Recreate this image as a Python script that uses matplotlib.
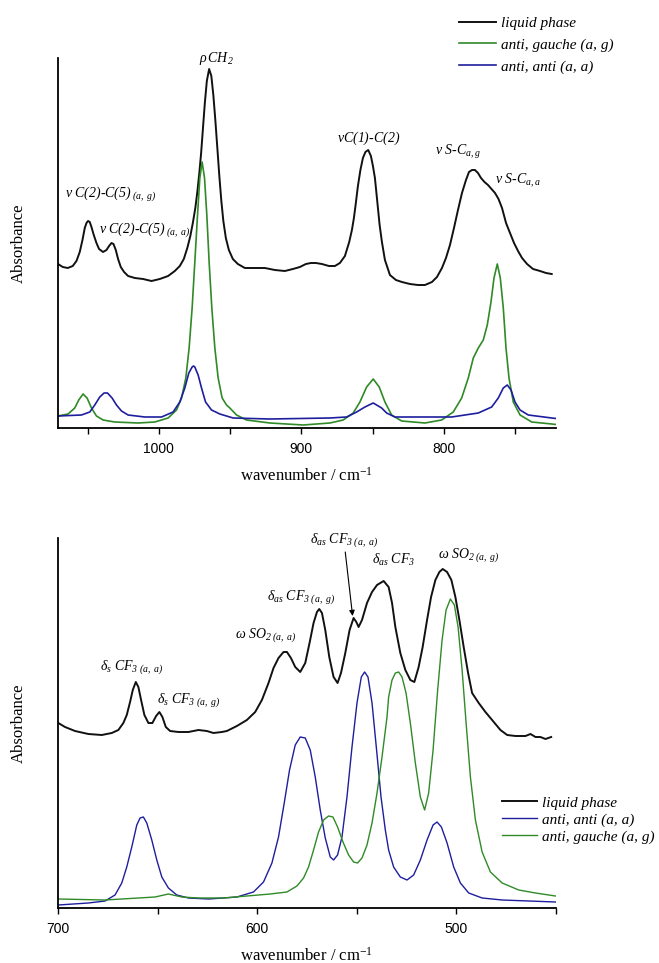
import matplotlib
matplotlib.use("Agg")
import matplotlib.pyplot as plt
from matplotlib.font_manager import FontProperties

# ---------------- data ----------------
# Top panel: 1070-722 cm-1, absorbance in arbitrary units
top_liq_wn = [1070.67, 1067.37, 1063.86, 1060.35, 1057.75, 1055.44, 1053.54, 1051.93, 1050.73, 1049.61,
              1048.42, 1047.23, 1045.61, 1043.72, 1041.90, 1039.09, 1036.70, 1034.88, 1033.19, 1031.79,
              1030.17, 1028.56, 1026.66, 1024.35, 1021.54, 1016.84, 1011.02, 1005.12, 999.30, 993.47,
              988.77, 985.26, 982.45, 980.00, 977.88, 976.13, 974.38, 972.98, 971.57, 970.31,
              969.12, 967.71, 966.31, 964.70, 963.15, 961.75, 960.35, 958.94, 957.54, 956.13,
              954.73, 952.97, 950.86, 948.06, 944.55, 939.64, 932.60, 925.60, 918.58, 911.57,
              905.95, 901.04, 896.83, 893.33, 889.82, 885.60, 880.69, 876.48, 872.97, 869.46,
              866.44, 864.55, 863.15, 861.96, 860.34, 858.59, 856.83, 855.08, 853.11, 851.22,
              849.81, 848.41, 846.65, 845.11, 843.50, 841.39, 837.88, 833.67, 829.46, 823.84,
              818.23, 813.32, 808.41, 804.90, 801.39, 798.58, 795.77, 792.96, 790.16, 787.35,
              784.54, 782.44, 780.33, 778.23, 776.12, 774.01, 771.56, 769.10, 766.64, 764.17,
              761.72, 759.26, 756.45, 753.65, 750.84, 748.03, 745.22, 741.71, 737.52, 732.61,
              728.40, 724.40]
top_liq = [1.64, 1.61, 1.60, 1.62, 1.67, 1.76, 1.88, 2.00, 2.05, 2.07,
           2.06, 2.01, 1.93, 1.85, 1.79, 1.76, 1.78, 1.82, 1.85, 1.84,
           1.78, 1.69, 1.61, 1.56, 1.52, 1.50, 1.49, 1.47, 1.49, 1.52,
           1.57, 1.62, 1.69, 1.80, 1.92, 2.05, 2.20, 2.36, 2.55, 2.75,
           2.98, 3.25, 3.47, 3.59, 3.52, 3.33, 3.08, 2.80, 2.52, 2.27,
           2.07, 1.90, 1.78, 1.69, 1.64, 1.60, 1.60, 1.60, 1.58, 1.57,
           1.59, 1.61, 1.64, 1.65, 1.65, 1.64, 1.62, 1.62, 1.65, 1.72,
           1.86, 1.98, 2.10, 2.23, 2.42, 2.58, 2.70, 2.76, 2.78, 2.72,
           2.62, 2.50, 2.25, 2.03, 1.86, 1.68, 1.53, 1.48, 1.46, 1.44,
           1.43, 1.43, 1.46, 1.51, 1.60, 1.70, 1.83, 2.00, 2.18, 2.35,
           2.48, 2.56, 2.58, 2.58, 2.55, 2.50, 2.46, 2.43, 2.39, 2.35,
           2.29, 2.20, 2.05, 1.95, 1.85, 1.77, 1.70, 1.64, 1.59, 1.57,
           1.55, 1.54]

top_ag_wn = [1070.67, 1063.65, 1058.95, 1056.14, 1053.12, 1050.31, 1047.23, 1043.72, 1039.09, 1030.87,
             1014.52, 1002.80, 993.47, 987.57, 984.06, 981.04, 978.73, 976.62, 974.73, 972.84,
             971.22, 969.61, 967.93, 966.31, 964.70, 962.80, 960.69, 958.37, 955.57, 952.48,
             950.17, 945.47, 938.45, 922.09, 898.73, 879.99, 870.65, 863.63, 858.93, 854.23,
             849.59, 845.38, 841.39, 836.68, 829.66, 813.32, 801.60, 793.46, 787.56, 782.93,
             779.42, 775.91, 772.40, 769.60, 767.00, 764.89, 762.58, 760.47, 758.37, 756.47,
             754.37, 751.35, 746.62, 738.43, 724.40, 721.39]
top_ag = [0.12, 0.14, 0.20, 0.28, 0.34, 0.30, 0.20, 0.12, 0.08, 0.06,
          0.05, 0.06, 0.10, 0.18, 0.30, 0.50, 0.80, 1.20, 1.66, 2.13,
          2.50, 2.66, 2.50, 2.13, 1.66, 1.20, 0.80, 0.50, 0.30, 0.23,
          0.20, 0.13, 0.08, 0.05, 0.03, 0.05, 0.08, 0.15, 0.26, 0.41,
          0.49, 0.41, 0.26, 0.13, 0.07, 0.05, 0.08, 0.16, 0.30, 0.50,
          0.70, 0.80, 0.88, 1.03, 1.26, 1.50, 1.64, 1.50, 1.20, 0.80,
          0.50, 0.26, 0.13, 0.06, 0.04, 0.035]

top_aa_wn = [1070.67, 1054.24, 1048.42, 1044.91, 1041.40, 1038.38, 1036.00, 1032.77, 1029.68, 1026.17,
             1021.54, 1009.82, 998.10, 989.96, 985.26, 981.75, 978.94, 976.62, 975.64, 974.73,
             972.41, 970.03, 967.22, 963.01, 957.18, 947.85, 922.09, 879.99, 868.27, 861.25,
             855.41, 849.59, 843.70, 840.19, 834.37, 794.58, 775.91, 766.51, 761.88, 758.37,
             755.56, 752.96, 750.15, 746.62, 740.82, 724.40, 721.39]
top_aa = [0.12, 0.13, 0.16, 0.23, 0.31, 0.35, 0.35, 0.30, 0.23, 0.17,
          0.13, 0.11, 0.11, 0.16, 0.26, 0.40, 0.55, 0.61, 0.62, 0.61,
          0.53, 0.40, 0.26, 0.18, 0.14, 0.10, 0.09, 0.10, 0.11, 0.16,
          0.21, 0.25, 0.20, 0.15, 0.11, 0.11, 0.15, 0.21, 0.30, 0.40,
          0.43, 0.38, 0.26, 0.18, 0.13, 0.10, 0.095]

# Bottom panel: 700-450 cm-1
bot_liq_wn = [699.85, 696.48, 691.46, 684.77, 678.04, 673.02, 669.70, 667.19, 665.48, 663.82,
              662.46, 660.95, 659.65, 658.29, 656.63, 654.62, 652.61, 650.75, 649.10, 647.59,
              645.88, 643.72, 639.55, 634.53, 629.50, 625.28, 621.96, 617.74, 615.23, 610.20,
              605.18, 601.01, 597.64, 594.32, 591.81, 589.30, 586.79, 585.08, 583.07, 580.91,
              578.40, 575.88, 573.72, 571.71, 570.00, 568.85, 567.49, 565.83, 563.82, 561.66,
              559.65, 557.94, 555.78, 553.62, 551.61, 550.25, 549.10, 547.39, 544.88, 542.36,
              539.85, 536.53, 534.02, 532.31, 530.65, 528.15, 525.63, 523.12, 521.11, 518.95,
              516.94, 514.73, 512.72, 510.55, 508.55, 506.89, 504.68, 502.52, 500.51, 498.50,
              496.34, 494.13, 492.12, 488.80, 485.43, 482.07, 477.90, 474.51, 470.36, 465.33,
              462.82, 460.31, 457.80, 455.28, 452.42]
bot_liq = [1.85, 1.81, 1.77, 1.74, 1.73, 1.75, 1.78, 1.85, 1.93, 2.06,
           2.18, 2.26, 2.21, 2.08, 1.93, 1.85, 1.85, 1.92, 1.96, 1.91,
           1.81, 1.77, 1.76, 1.76, 1.78, 1.77, 1.75, 1.76, 1.77, 1.82,
           1.88, 1.96, 2.08, 2.25, 2.40, 2.50, 2.56, 2.56, 2.50, 2.41,
           2.36, 2.45, 2.65, 2.85, 2.96, 2.99, 2.95, 2.78, 2.51, 2.31,
           2.25, 2.35, 2.55, 2.78, 2.90, 2.86, 2.81, 2.88, 3.05, 3.16,
           3.23, 3.27, 3.21, 3.05, 2.81, 2.55, 2.38, 2.28, 2.26, 2.41,
           2.61, 2.88, 3.11, 3.28, 3.36, 3.39, 3.36, 3.28, 3.11, 2.88,
           2.61, 2.35, 2.15, 2.05, 1.96, 1.88, 1.78, 1.73, 1.72, 1.72,
           1.74, 1.71, 1.71, 1.69, 1.71]

bot_aa_wn = [699.85, 684.77, 676.38, 671.36, 667.99, 665.48, 662.97, 660.45, 658.79, 657.13,
             655.43, 652.92, 650.41, 647.89, 644.57, 640.37, 634.53, 624.48, 616.94, 610.20,
             601.86, 596.83, 592.61, 589.30, 586.43, 583.77, 580.91, 578.40, 575.88, 573.37,
             570.86, 568.35, 565.83, 563.32, 561.66, 559.65, 557.44, 554.93, 552.41, 549.90,
             547.74, 546.08, 544.38, 542.36, 540.21, 537.84, 535.68, 534.02, 531.51, 528.15,
             524.78, 521.46, 518.10, 514.73, 511.71, 509.71, 507.54, 504.68, 501.36, 498.00,
             493.82, 487.09, 477.04, 463.67, 450.26]
bot_aa = [0.03, 0.05, 0.07, 0.13, 0.25, 0.41, 0.61, 0.83, 0.90, 0.91,
          0.85, 0.68, 0.48, 0.31, 0.20, 0.13, 0.10, 0.09, 0.10, 0.11,
          0.16, 0.26, 0.45, 0.71, 1.05, 1.38, 1.63, 1.71, 1.70, 1.58,
          1.31, 0.98, 0.70, 0.51, 0.48, 0.53, 0.71, 1.11, 1.61, 2.05,
          2.31, 2.36, 2.31, 2.05, 1.61, 1.11, 0.78, 0.58, 0.41, 0.31,
          0.28, 0.33, 0.48, 0.68, 0.83, 0.86, 0.81, 0.65, 0.41, 0.25,
          0.15, 0.10, 0.08, 0.07, 0.06]

bot_ag_wn = [699.85, 676.38, 659.65, 651.26, 644.57, 637.84, 629.50, 616.94, 605.18, 593.47,
             585.08, 580.05, 576.73, 574.22, 571.71, 569.20, 566.68, 564.17, 561.96, 559.65,
             556.93, 554.12, 551.61, 549.60, 547.39, 544.88, 542.36, 539.85, 537.34, 534.83,
             534.02, 532.31, 530.65, 528.99, 527.29, 525.28, 523.12, 520.61, 518.10, 515.94,
             513.93, 511.71, 509.40, 507.19, 505.18, 503.02, 501.01, 499.15, 497.14, 495.13,
             492.97, 490.46, 487.09, 482.92, 477.04, 468.70, 460.31, 450.26]
bot_ag = [0.09, 0.08, 0.10, 0.11, 0.14, 0.11, 0.10, 0.10, 0.12, 0.14,
          0.16, 0.22, 0.30, 0.41, 0.58, 0.76, 0.88, 0.92, 0.91, 0.81,
          0.66, 0.53, 0.46, 0.45, 0.50, 0.63, 0.85, 1.15, 1.51, 1.91,
          2.11, 2.28, 2.35, 2.36, 2.31, 2.15, 1.85, 1.45, 1.11, 0.98,
          1.15, 1.58, 2.18, 2.68, 2.98, 3.09, 3.03, 2.81, 2.38, 1.85,
          1.31, 0.88, 0.56, 0.36, 0.25, 0.18, 0.15, 0.12]

top_ticks = [1000, 900, 800]
top_minor = [1050, 950, 850, 750]
bot_ticks = [700, 600, 500]
bot_minor = [650, 550, 450]

lab_liq = "liquid phase"
lab_ag = "anti, gauche (a, g)"
lab_aa = "anti, anti (a, a)"

# ---------------- styling ----------------
plt.rcParams['font.family'] = ['Liberation Sans', 'DejaVu Sans']
plt.rcParams['mathtext.fontset'] = 'custom'
plt.rcParams['mathtext.rm'] = 'Liberation Serif:italic'
plt.rcParams['mathtext.it'] = 'Liberation Serif:italic'
plt.rcParams['mathtext.bf'] = 'Liberation Serif:bold'

C_LIQ = '#111111'
C_AG = '#2f8a27'
C_AA = '#1e1e9e'

serif = ['Liberation Serif', 'DejaVu Serif']
ann_kw = dict(family=serif, style='italic', fontsize=10, ha='left', va='baseline')

fig = plt.figure(figsize=(6.59, 9.63), dpi=100)
ax1 = fig.add_axes([58/659, 535/963, 498/659, 370/963])
ax2 = fig.add_axes([58/659, 55/963, 498/659, 370/963])

for ax in (ax1, ax2):
    ax.spines['top'].set_visible(False)
    ax.spines['right'].set_visible(False)
    ax.spines['left'].set_linewidth(1.3)
    ax.spines['bottom'].set_linewidth(1.3)
    ax.set_yticks([])
    ax.set_ylim(0, 3.70)
    ax.tick_params(axis='x', which='both', direction='out', length=4, width=1.0,
                   labelsize=10, pad=6)
    ax.set_ylabel('Absorbance', family=serif, fontsize=12)
    ax.yaxis.set_label_coords(-0.062, 0.5)
    ax.set_xlabel(r'wavenumber / cm$^{\mathregular{-1}}$', family=serif, fontsize=12)
    ax.xaxis.set_label_coords(0.5, -0.105)

# top panel
l1, = ax1.plot(top_liq_wn, top_liq, color=C_LIQ, lw=1.4)
l2, = ax1.plot(top_ag_wn, top_ag, color=C_AG, lw=1.2)
l3, = ax1.plot(top_aa_wn, top_aa, color=C_AA, lw=1.2)
ax1.set_xlim(1070.7, 721.4)
ax1.set_xticks(top_ticks)
ax1.set_xticks(top_minor, minor=True)

ax1.text(971.9, 3.66, r'$\rho\,$CH$_2$', **ann_kw)
ax1.text(1066.0, 2.31, r'$\nu$ C(2)-C(5)$_{\ (a,\ g)}$', **ann_kw)
ax1.text(1042.1, 1.95, r'$\nu$ C(2)-C(5)$_{\ (a,\ a)}$', **ann_kw)
ax1.text(875.1, 2.86, r'$\nu$C(1)-C(2)', **ann_kw)
ax1.text(806.3, 2.73, r'$\nu$ S-C$_{a,g}$', **ann_kw)
ax1.text(764.2, 2.44, r'$\nu$ S-C$_{a,a}$', **ann_kw)

leg_prop = FontProperties(family=serif, style='italic', size=11)
ax1.legend([l1, l2, l3], [lab_liq, lab_ag, lab_aa], loc='upper left',
           bbox_to_anchor=(459/659, 1 - 16.5/963), bbox_transform=fig.transFigure,
           frameon=False, prop=leg_prop, handlelength=2.4, handletextpad=0.35,
           labelspacing=0.52, borderpad=0, borderaxespad=0)

# bottom panel
m1, = ax2.plot(bot_liq_wn, bot_liq, color=C_LIQ, lw=1.4)
m3, = ax2.plot(bot_aa_wn, bot_aa, color=C_AA, lw=1.0)
m2, = ax2.plot(bot_ag_wn, bot_ag, color=C_AG, lw=1.0)
ax2.set_xlim(700, 450)
ax2.set_xticks(bot_ticks)
ax2.set_xticks(bot_minor, minor=True)

ax2.text(678.9, 2.38, r'$\delta_s$ CF$_{3\ (a,\ a)}$', **ann_kw)
ax2.text(650.3, 2.05, r'$\delta_s$ CF$_{3\ (a,\ g)}$', **ann_kw)
ax2.text(611.1, 2.70, r'$\omega$ SO$_{2\ (a,\ a)}$', **ann_kw)
ax2.text(595.0, 3.08, r'$\delta_{as}$ CF$_{3\ (a,\ g)}$', **ann_kw)
ax2.text(573.4, 3.65, r'$\delta_{as}$ CF$_{3\ (a,\ a)}$', **ann_kw)
ax2.text(542.2, 3.44, r'$\delta_{as}$ CF$_3$', **ann_kw)
ax2.text(509.1, 3.50, r'$\omega$ SO$_{2\ (a,\ g)}$', **ann_kw)
ax2.annotate('', xy=(552.1, 2.92), xytext=(555.8, 3.56),
             arrowprops=dict(arrowstyle='-|>', color='black', lw=0.8,
                             mutation_scale=8, shrinkA=0, shrinkB=0))

ax2.legend([m1, m3, m2], [lab_liq, lab_aa, lab_ag], loc='upper left',
           bbox_to_anchor=(502/659, 1 - 796/963), bbox_transform=fig.transFigure,
           frameon=False, prop=leg_prop, handlelength=2.3, handletextpad=0.35,
           labelspacing=0.21, borderpad=0, borderaxespad=0)

fig.savefig('out.png', dpi=100)
